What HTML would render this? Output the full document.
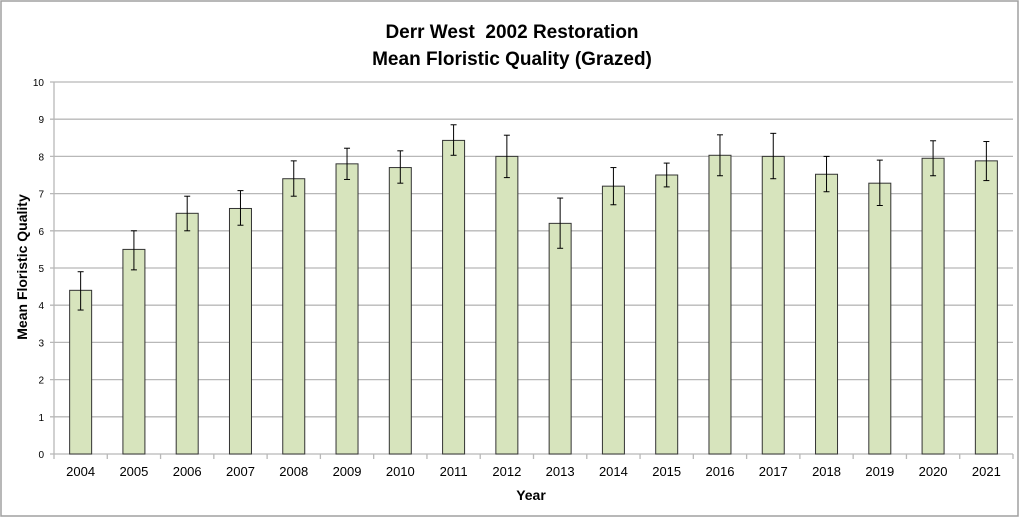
<!DOCTYPE html>
<html><head><style>body{margin:0;background:#fff}svg{display:block}</style></head><body>
<svg width="1024" height="529" xmlns="http://www.w3.org/2000/svg" font-family="Liberation Sans, sans-serif">
<rect x="1" y="1" width="1017" height="515" fill="#fff" stroke="#a0a0a0" stroke-width="1.5"/>
<text x="512" y="38" font-size="19" font-weight="bold" text-anchor="middle">Derr West&#160; 2002 Restoration</text>
<text x="512" y="65" font-size="19" font-weight="bold" text-anchor="middle">Mean Floristic Quality (Grazed)</text>
<g id="grid" stroke="#b8b8b8" stroke-width="1.3"></g>
<g id="bars"></g>
<g id="lab" font-size="10" text-anchor="end"></g>
<g id="xl" font-size="13" text-anchor="middle"></g>
<text x="531" y="500" font-size="14" font-weight="bold" text-anchor="middle">Year</text>
<text transform="translate(27,267) rotate(-90)" font-size="14" font-weight="bold" text-anchor="middle">Mean Floristic Quality</text>
<script>
const ns="http://www.w3.org/2000/svg";
function el(p,t,a,tx){const e=document.createElementNS(ns,t);for(const k in a)e.setAttribute(k,a[k]);if(tx!==undefined)e.textContent=tx;document.getElementById(p).appendChild(e);}
const y0=454,u=37.2,x0=54,x1=1013,cw=(x1-x0)/18;
for(let i=0;i<=10;i++){const y=y0-i*u;el("grid","line",{x1:x0-4,x2:x1,y1:y,y2:y});el("lab","text",{x:44,y:y+4},i);}
el("grid","line",{x1:x0,x2:x0,y1:y0-10*u,y2:y0});
for(let i=0;i<=18;i++){const x=x0+i*cw;el("grid","line",{x1:x,x2:x,y1:y0,y2:y0+5});}
const v=[4.4,5.5,6.47,6.6,7.4,7.8,7.7,8.43,8.0,6.2,7.2,7.5,8.03,8.0,7.52,7.28,7.95,7.88];
const hi=[4.9,6.0,6.93,7.08,7.88,8.22,8.15,8.85,8.57,6.88,7.7,7.82,8.58,8.62,8.0,7.9,8.42,8.4];
const lo=[3.87,4.95,6.0,6.15,6.93,7.38,7.28,8.03,7.43,5.53,6.7,7.18,7.48,7.4,7.05,6.68,7.48,7.35];
v.forEach((d,i)=>{const c=x0+(i+0.5)*cw;
el("bars","rect",{x:c-11,y:y0-d*u,width:22,height:d*u,fill:"#d7e4bd",stroke:"#333","stroke-width":1});
el("bars","line",{x1:c,x2:c,y1:y0-hi[i]*u,y2:y0-lo[i]*u,stroke:"#000","stroke-width":1});
el("bars","line",{x1:c-3,x2:c+3,y1:y0-hi[i]*u,y2:y0-hi[i]*u,stroke:"#000","stroke-width":1});
el("bars","line",{x1:c-3,x2:c+3,y1:y0-lo[i]*u,y2:y0-lo[i]*u,stroke:"#000","stroke-width":1});
el("xl","text",{x:c,y:476},2004+i);});
</script>
</svg>
</body></html>
